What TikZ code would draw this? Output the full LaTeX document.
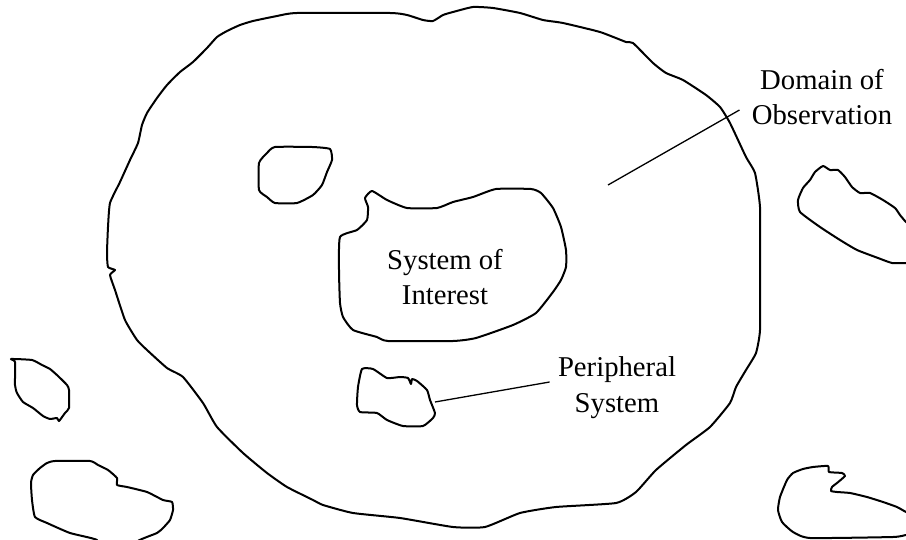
\documentclass[tikz,border=0pt]{standalone}
\usepackage{fontspec}
\setmainfont{Liberation Serif}
\usepackage{tikz}

\tikzset{
	blob/.style={draw, line width=1pt, line join=round},
	leader/.style={line width=0.65pt},
	tag/.style={align=center, inner sep=0pt, font=\fontsize{14.35pt}{17.9pt}\selectfont}
}

\begin{document}
\begin{tikzpicture}[x=0.5pt, y=-0.5pt]

		\useasboundingbox (0,0) rectangle (906,540);
		\clip (0,0) rectangle (906,540);

		% domain of observation
		\draw[blob] plot[smooth cycle, tension=0.3] coordinates {
			(453,12) (473,7) (493,8) (520,13) (543,20) (563,23) (600,32) (626,42) (633,43)
			(653,63) (666,73) (683,80) (706,95) (720,107) (730,123) (746,157) (755,173)
			(760,207) (760,267) (760,330) (756,353) (746,370) (736,387) (730,403) (710,427)
			(686,445) (656,470) (636,492) (616,503) (556,507) (520,513) (485,527) (453,527)
			(400,518) (353,513) (323,505) (313,500) (287,487) (267,473) (243,453) (217,427)
			(203,403) (183,377) (167,368) (147,350) (137,340) (125,320) (115,290) (110,275)
			(115,270) (108,267) (107,253) (108,227) (110,203) (120,182) (130,160) (138,143)
			(142,125) (147,113) (157,98) (167,85) (180,72) (193,62) (207,48) (217,37)
			(227,31) (240,25) (253,21) (277,16) (297,13) (390,13) (407,15) (423,20)
			(433,21) (443,15)};

		% system of interest
		\draw[blob] plot[smooth cycle, tension=0.3] coordinates {
			(372,191) (387,200) (407,208) (437,208) (453,202) (473,197) (496,189) (531,189)
			(541,193) (553,208) (561,227) (566,250) (566,267) (561,280) (553,292) (536,313)
			(513,325) (476,338) (453,341) (388,341) (377,337) (353,330) (343,317) (340,303)
			(339,270) (340,237) (357,230) (367,220) (368,207) (365,198)};

		% inner blobs
		\draw[blob] plot[smooth cycle, tension=0.3] coordinates {
			(275,147) (312,147) (330,149) (332,160) (327,172) (322,185) (313,195) (297,203)
			(275,203) (267,197) (259,190) (259,163) (267,153)};
		\draw[blob] plot[smooth cycle, tension=0.3] coordinates {
			(362,369) (373,369) (387,378) (400,377) (408,378) (411,384) (412,379) (417,381)
			(427,390) (430,400) (435,413) (433,418) (423,426) (403,426) (387,420) (377,413)
			(360,412) (357,405) (358,387)};

		% outer blobs
		\draw[blob] plot[smooth cycle, tension=0.3] coordinates {
			(11,359) (32,360) (42,365) (50,369) (58,376) (67,385) (69,390) (69,408)
			(65,413) (59,421) (57,418) (50,419) (43,416) (33,408) (23,402) (17,393)
			(15,385) (15,362)};
		\draw[blob] plot[smooth cycle, tension=0.3] coordinates {
			(55,461) (90,461) (98,465) (108,470) (117,478) (117,485) (127,487) (147,492)
			(163,500) (172,502) (173,510) (170,520) (163,528) (157,533) (138,541) (138,552)
			(97,552) (97,540) (70,533) (47,523) (35,517) (32,500) (31,483) (33,475)
			(40,468) (47,463)};
		\draw[blob] plot[smooth cycle, tension=0.3] coordinates {
			(823,166) (830,170) (838,170) (845,177) (852,187) (860,193) (870,193) (883,200)
			(895,208) (900,215) (906,222) (916,230) (916,262) (906,263) (892,263) (878,258)
			(857,250) (840,240) (820,227) (800,212) (798,200) (803,188) (810,180) (815,172)};
		\draw[blob] plot[smooth cycle, tension=0.3] coordinates {
			(813,467) (828,466) (829,472) (842,473) (845,476) (837,483) (832,487) (831,491)
			(837,492) (850,493) (867,497) (883,502) (897,507) (906,512) (916,516) (916,535)
			(906,535) (893,537) (810,538) (793,532) (782,522) (778,510) (780,497) (787,480)
			(793,473) (803,469)};

		\node[tag] (dom) at (822,97) {Domain of\\Observation};
		\node[tag] (soi) at (445,277) {System of\\Interest};
		\node[tag] (peri) at (617,388) {Peripheral\\System};

		\coordinate (domtip) at (608,185);
		\coordinate (peritip) at (435,402);

		\draw[leader] (domtip) -- ([shift={(-12,13)}]dom.west);
		\draw[leader] (peritip) -- ([shift={(-8,-6)}]peri.west);

\end{tikzpicture}
\end{document}
